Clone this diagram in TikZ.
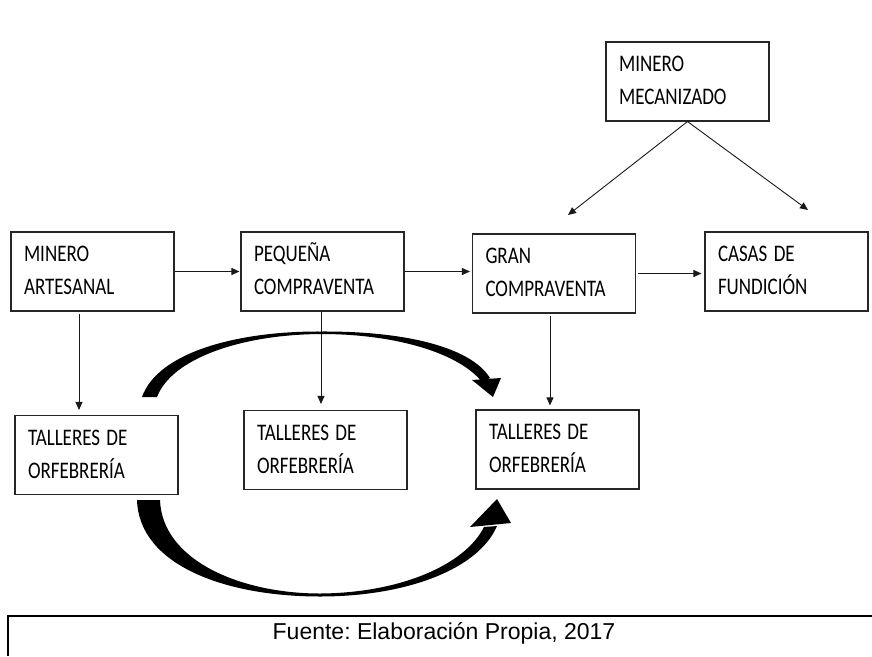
\documentclass[tikz,border=0pt]{standalone}
\usepackage{fontspec}
\setmainfont{Carlito}
\newfontfamily\arialfont{Liberation Sans}
\usetikzlibrary{arrows.meta}
\frenchspacing
\newcommand{\dosl}[2]{\scalebox{1}[1.25]{\begin{tabular}{@{}l@{}}#1\\#2\end{tabular}}}
\tikzset{
  bloque/.style={draw=black!85, line width=1.1pt, rectangle, minimum width=163pt, minimum height=79pt,
    text width=137pt, inner xsep=13pt, inner ysep=0pt, align=left, text=black,
    font=\fontsize{19}{26.5}\selectfont},
  flecha/.style={draw=black!90, line width=0.9pt, -{Triangle[length=8pt,width=7pt]}},
}

\begin{document}
\begin{tikzpicture}[x=1pt, y=-1pt]
			%%%%% START %%%%%
			\useasboundingbox (0,0) rectangle (872,656);
			
			\node[bloque] (mecanizado) at (687.5, 81.5) {\dosl{MINERO}{MECANIZADO}};
			
			\node[bloque] (artesanal) at (92.5, 271.5) {\dosl{MINERO}{ARTESANAL}};
			\node[bloque] (pequena) at (322.5, 271.5) {\dosl{PEQUEÑA}{COMPRAVENTA}};
			\node[bloque] (gran) at (554, 273.5) {\dosl{GRAN}{COMPRAVENTA}};
			\node[bloque] (casas) at (786.5, 271.5) {\dosl{CASAS DE}{FUNDICIÓN}};
			
			\node[bloque] (taller1) at (96.5, 455) {\dosl{TALLERES DE}{ORFEBRERÍA}};
			\node[bloque] (taller2) at (325.5, 450) {\dosl{TALLERES DE}{ORFEBRERÍA}};
			\node[bloque] (taller3) at (557.5, 449.5) {\dosl{TALLERES DE}{ORFEBRERÍA}};
			
			\draw[flecha, shorten >=1pt] (artesanal.east) -- (artesanal.east -| pequena.west);
			\draw[flecha, shorten >=2pt] (pequena.east) -- (pequena.east -| gran.west);
			\draw[flecha, shorten <=2pt, shorten >=3pt] (gran.east) -- (gran.east -| casas.west);
			
			\coordinate (pgran) at (568, 215);
			\coordinate (pcasas) at (808, 210);
			\draw[flecha] (mecanizado.south) -- (pgran);
			\draw[flecha] (mecanizado.south) -- (pcasas);
			
			\draw[flecha, shorten <=2pt, shorten >=5pt] ([xshift=-13.5pt]artesanal.south) -- ([xshift=-17.5pt]taller1.north);
			\draw[flecha, shorten >=6pt] ([xshift=-1.5pt]pequena.south) -- ([xshift=-4.5pt]taller2.north);
			\draw[flecha, shorten <=2pt, shorten >=4pt] ([xshift=-4pt]gran.south) -- ([xshift=-7.5pt]taller3.north);
			
			% curved arrows
			\fill (142,397) .. controls (158,352) and (238,331) .. (321,331.5) .. controls (402,331) and (470,346) .. (490,378)
			  -- (482,382) .. controls (460,354) and (398,334) .. (321,334) .. controls (242,334.5) and (172,358) .. (157,397) -- cycle;
			\fill (472,380) -- (501,378) -- (493,397) -- cycle;
			
			\fill (137,500) .. controls (139,565) and (225,596.5) .. (320,596.5) .. controls (405,596.5) and (478,570) .. (497,526)
			  -- (484,527) .. controls (465,565) and (400,593) .. (320,593.5) .. controls (240,593.5) and (162,560) .. (160,500) -- cycle;
			\fill (470,527) -- (511,523) -- (497,499) -- cycle;
			
			\draw[line width=1.2pt] (8,656) -- (8,616) -- (872,616);
			\node[anchor=base, font=\arialfont\fontsize{23}{27}\selectfont] (fuente) at (444,639) {Fuente: Elaboración Propia, 2017};
			
			%%%%% END %%%%%
\end{tikzpicture}
\end{document}
